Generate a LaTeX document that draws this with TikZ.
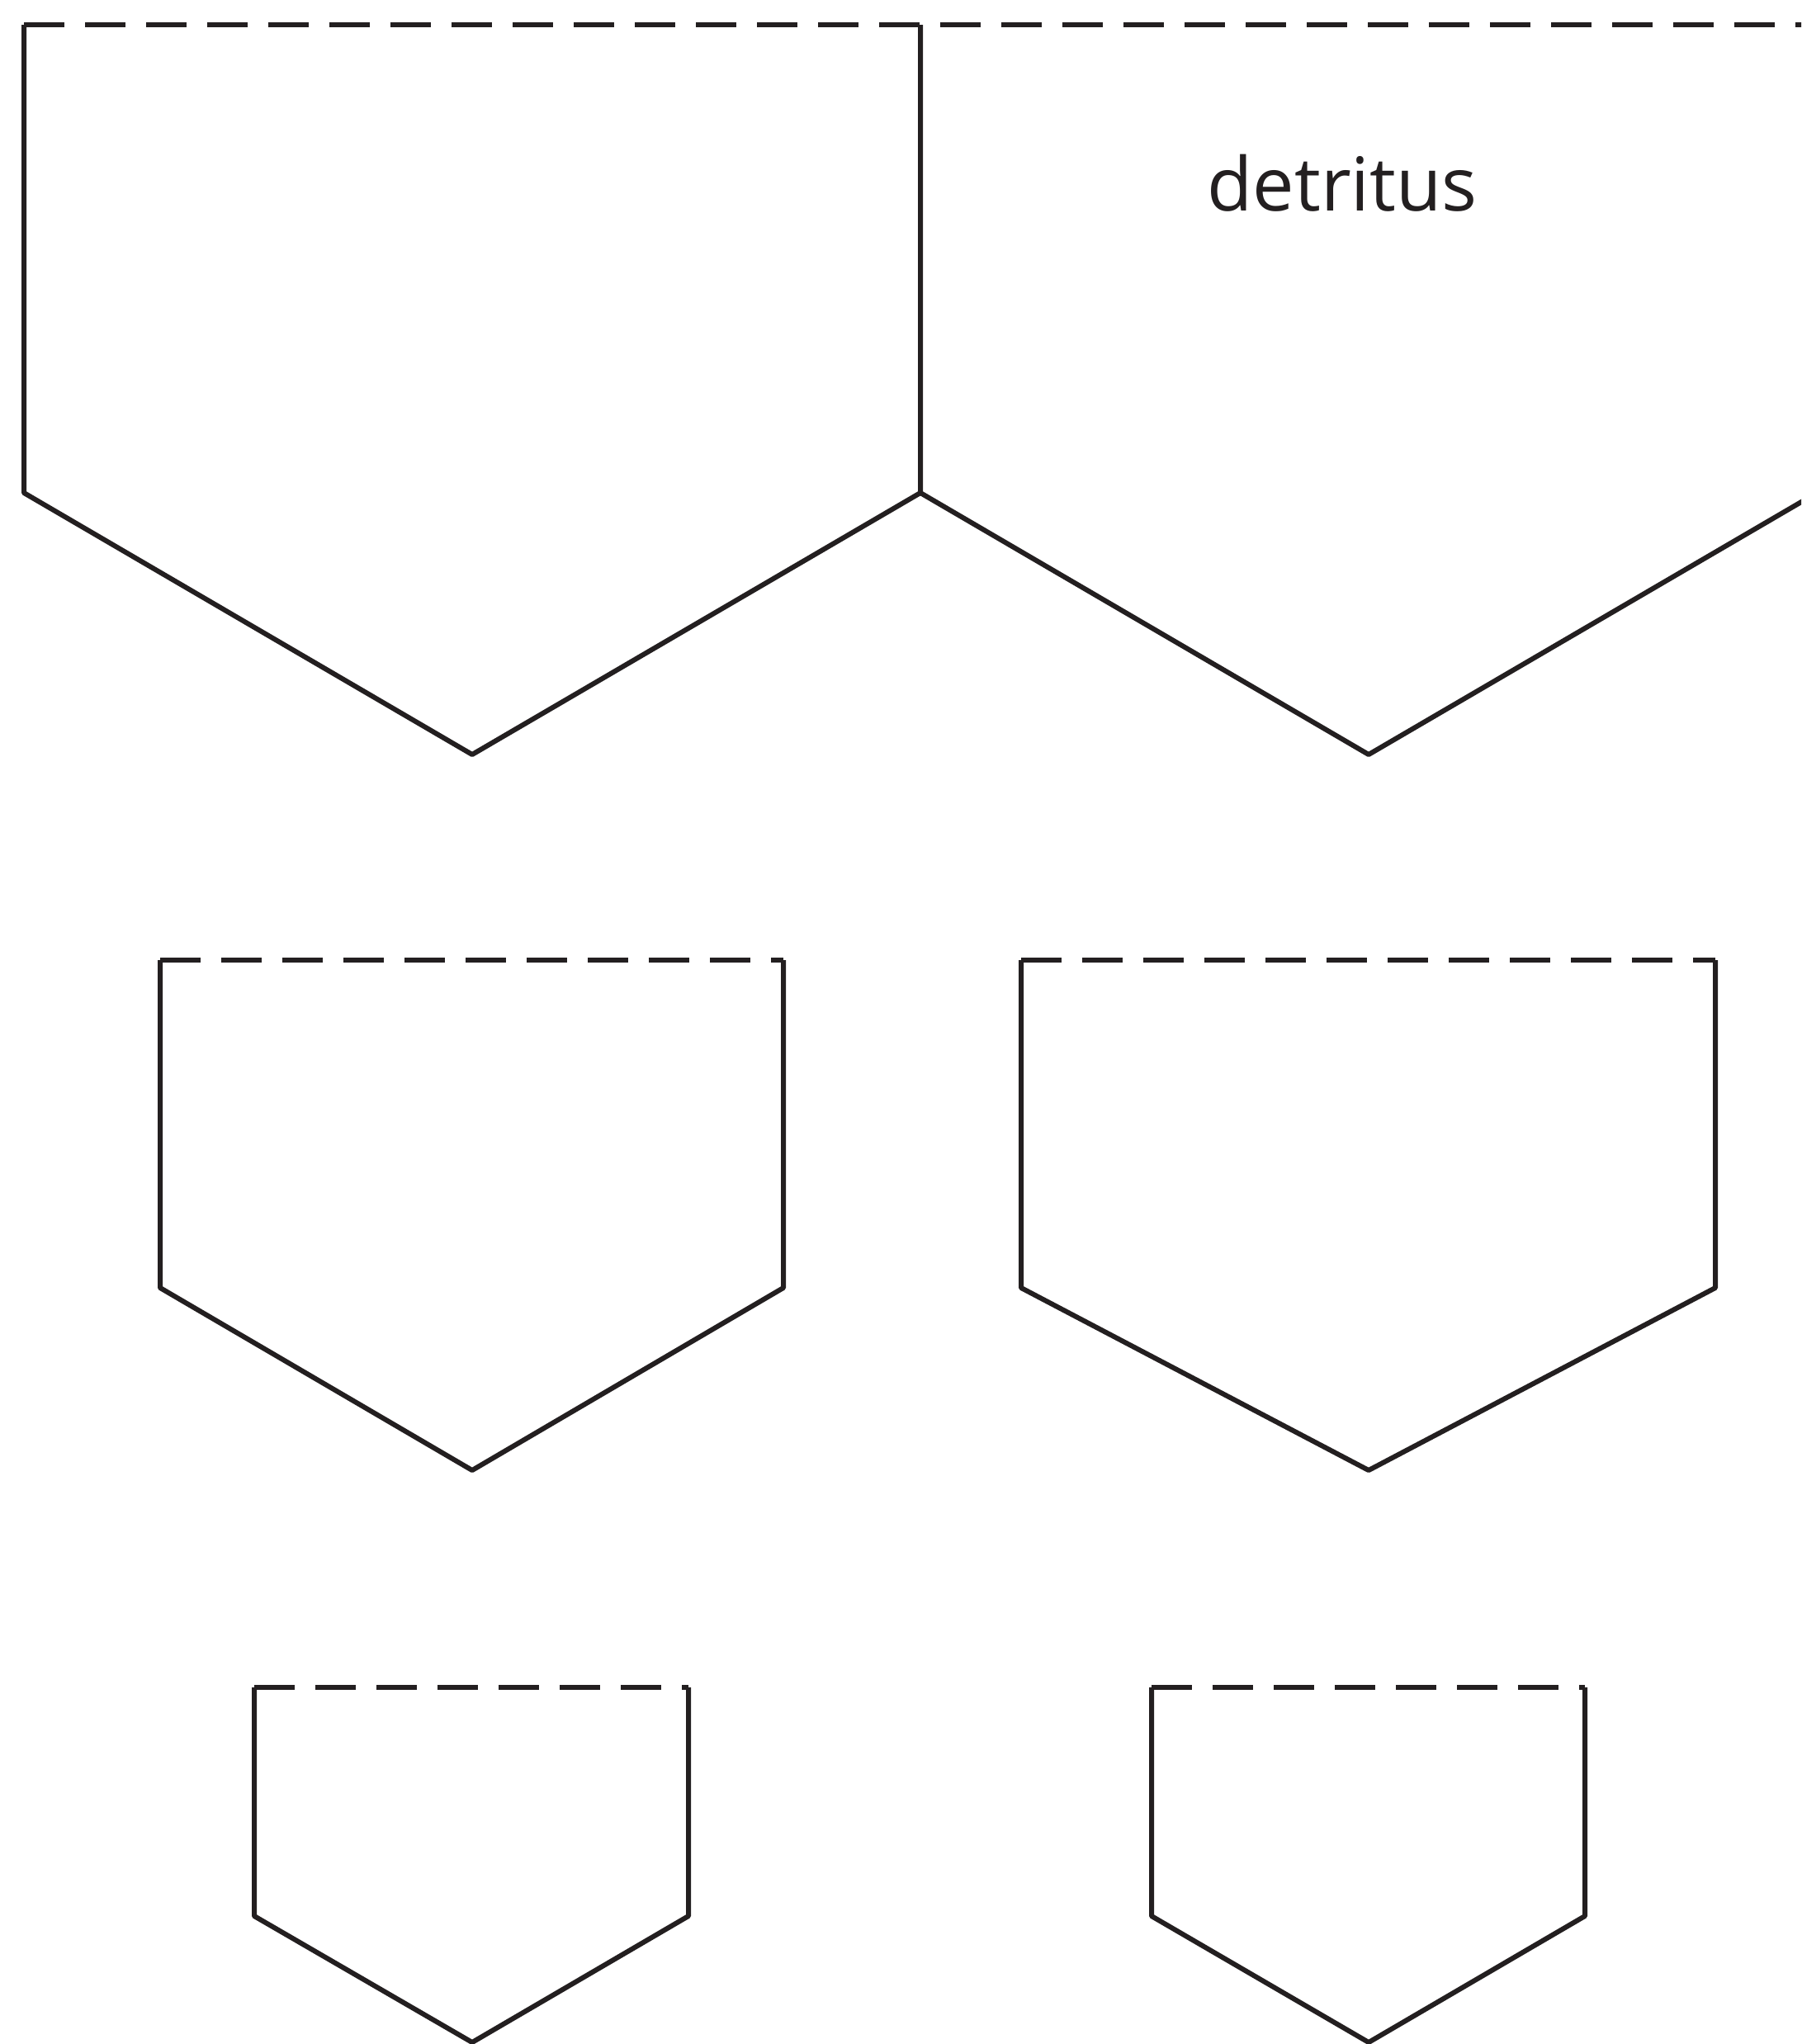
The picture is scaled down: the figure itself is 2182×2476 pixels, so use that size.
\documentclass[tikz,border=0pt]{standalone}
\usepackage{fontspec}
\setmainfont{Open Sans}
\definecolor{ink}{HTML}{231F20}
\begin{document}
\begin{tikzpicture}[x=1pt,y=-1pt,
  outline/.style={draw=ink,line width=6pt,line join=round},
  topline/.style={draw=ink,line width=6pt,dash pattern=on 49pt off 25pt},
  label/.style={text=ink,font=\fontsize{90}{100}\selectfont,inner sep=0pt}]
\useasboundingbox (0,0) rectangle (2182,2476);
\clip (0,0) rectangle (2182,2476);
% top row
\draw[outline] (29,30) -- (29,597) -- (572,914) -- (1115,597) -- (1115,30);
\draw[outline] (1115,597) -- (1658,914) -- (2201,597) -- (2201,30);
\draw[topline] (29,30) -- (2190,30);
\node[label,anchor=base] (detritus) at (1626,255) {detritus};
% middle row
\draw[outline] (194,1163) -- (194,1560) -- (572,1781) -- (949,1560) -- (949,1163);
\draw[topline] (194,1163) -- (949,1163);
\draw[outline] (1237,1163) -- (1237,1560) -- (1658,1781) -- (2078,1560) -- (2078,1163);
\draw[topline] (1237,1163) -- (2078,1163);
% bottom row
\draw[outline] (308,2044) -- (308,2321) -- (572,2474) -- (834,2321) -- (834,2044);
\draw[topline] (308,2044) -- (834,2044);
\draw[outline] (1395,2044) -- (1395,2321) -- (1658,2474) -- (1920,2321) -- (1920,2044);
\draw[topline] (1395,2044) -- (1920,2044);
\end{tikzpicture}
\end{document}
